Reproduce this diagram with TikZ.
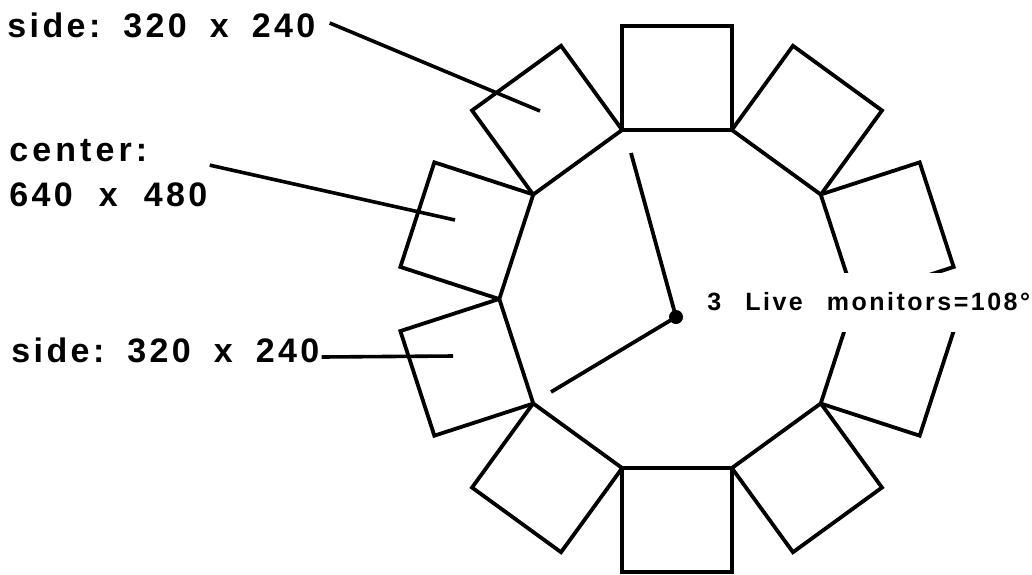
\documentclass[tikz,border=0pt]{standalone}
\usepackage{fontspec}
\setmainfont{Liberation Sans}
\newfontfamily\lblfont{Liberation Sans}[UprightFont=* Bold, LetterSpace=10]

\begin{document}
\begin{tikzpicture}[
    x=0.5pt, y=0.5pt,
    monitor/.style={rectangle, draw, line width=1.9pt, minimum width=55pt, minimum height=52pt, inner sep=0pt},
    lbl/.style={font=\lblfont\fontsize{17}{22.5}\selectfont, inner sep=0pt, align=left},
    note/.style={font=\lblfont\fontsize{12.5}{14}\selectfont, fill=white, inner xsep=3pt, minimum height=29.5pt},
    hub/.style={circle, fill, inner sep=0pt, minimum size=7pt},
    hand/.style={line width=1.9pt},
    lead/.style={line width=1.8pt}
]
\useasboundingbox (0,0) rectangle (1032,-574);

% ring of monitors
\begin{scope}[shift={(677,-299)}]
\foreach \a [count=\i] in {90,54,18,-18,-54,-90,-126,-162,162,126}
  \node[monitor, rotate=\a-90] (m\i) at (\a:221) {};
\end{scope}

\node[note, anchor=west] (live) at (701,-302) {3\hspace{12pt}Live\hspace{12pt}monitors=108°};

\node[hub] (hub) at (676,-317) {};
\coordinate (tip1) at (631,-153);
\coordinate (tip2) at (551,-392);
\draw[hand] (tip1) -- (hub.center) -- (tip2);

\node[lbl, anchor=base west] (side1) at (7,-37) {side:\hspace{11.5pt}320\hspace{11.5pt}x\hspace{11.5pt}240};
\node[lbl, anchor=north west] (ctr) at (9,-139) {{\addfontfeature{LetterSpace=12}center:}\\640\hspace{13pt}x\hspace{13pt}480};
\node[lbl, anchor=base west] (side2) at (11,-362) {side:\hspace{11.5pt}320\hspace{11.5pt}x\hspace{11.5pt}240};

\coordinate (p9) at (540,-111);
\coordinate (p8) at (455,-220);
\coordinate (p7) at (453,-356);

\draw[lead] ([xshift=7pt, yshift=7pt]side1.base east) -- (p9);
\draw[lead] ([xshift=1pt, yshift=4pt]ctr.east) -- (p8);
\draw[lead] ([xshift=1pt, yshift=2.5pt]side2.base east) -- (p7);

\end{tikzpicture}
\end{document}
